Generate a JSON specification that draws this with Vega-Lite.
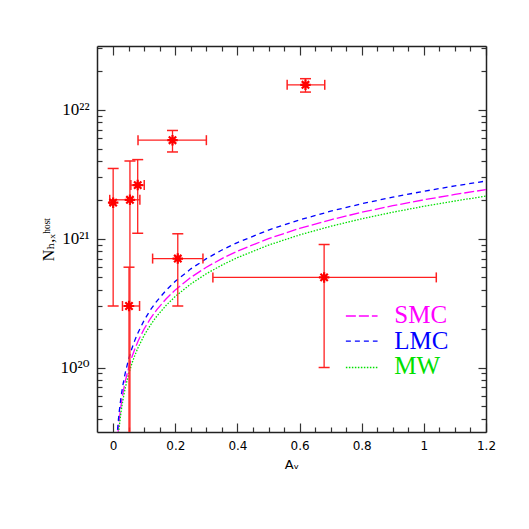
{
  "$schema": "https://vega.github.io/schema/vega-lite/v6.json",
  "width": 389,
  "height": 386,
  "autosize": {"type": "none"},
  "padding": {"left": 97, "top": 46, "right": 43, "bottom": 97},
  "background": "white",
  "config": {
    "view": {"stroke": null},
    "axis": {"domainColor": "#222", "domainWidth": 1.5, "tickColor": "#333", "tickWidth": 1.2, "grid": false, "labelOverlap": false}
  },
  "datasets": {
    "curves": [
      {"av": 0.012, "SMC": 2.4e19, "LMC": 2.796e19, "MW": 2.136e19},
      {"av": 0.014, "SMC": 2.8e19, "LMC": 3.262e19, "MW": 2.492e19},
      {"av": 0.016, "SMC": 3.2e19, "LMC": 3.728e19, "MW": 2.848e19},
      {"av": 0.018, "SMC": 3.6e19, "LMC": 4.194e19, "MW": 3.204e19},
      {"av": 0.02, "SMC": 4.0e19, "LMC": 4.66e19, "MW": 3.56e19},
      {"av": 0.025, "SMC": 5.0e19, "LMC": 5.825e19, "MW": 4.45e19},
      {"av": 0.03, "SMC": 6.0e19, "LMC": 6.99e19, "MW": 5.34e19},
      {"av": 0.035, "SMC": 7.0e19, "LMC": 8.155e19, "MW": 6.23e19},
      {"av": 0.04, "SMC": 8.0e19, "LMC": 9.32e19, "MW": 7.12e19},
      {"av": 0.05, "SMC": 1.0e20, "LMC": 1.165e20, "MW": 8.9e19},
      {"av": 0.06, "SMC": 1.2e20, "LMC": 1.398e20, "MW": 1.068e20},
      {"av": 0.07, "SMC": 1.4e20, "LMC": 1.631e20, "MW": 1.246e20},
      {"av": 0.08, "SMC": 1.6e20, "LMC": 1.864e20, "MW": 1.424e20},
      {"av": 0.1, "SMC": 2.0e20, "LMC": 2.33e20, "MW": 1.78e20},
      {"av": 0.12, "SMC": 2.4e20, "LMC": 2.796e20, "MW": 2.136e20},
      {"av": 0.14, "SMC": 2.8e20, "LMC": 3.262e20, "MW": 2.492e20},
      {"av": 0.17, "SMC": 3.4e20, "LMC": 3.961e20, "MW": 3.026e20},
      {"av": 0.2, "SMC": 4.0e20, "LMC": 4.66e20, "MW": 3.56e20},
      {"av": 0.25, "SMC": 5.0e20, "LMC": 5.825e20, "MW": 4.45e20},
      {"av": 0.3, "SMC": 6.0e20, "LMC": 6.99e20, "MW": 5.34e20},
      {"av": 0.35, "SMC": 7.0e20, "LMC": 8.155e20, "MW": 6.23e20},
      {"av": 0.4, "SMC": 8.0e20, "LMC": 9.32e20, "MW": 7.12e20},
      {"av": 0.5, "SMC": 1.0e21, "LMC": 1.165e21, "MW": 8.9e20},
      {"av": 0.6, "SMC": 1.2e21, "LMC": 1.398e21, "MW": 1.068e21},
      {"av": 0.7, "SMC": 1.4e21, "LMC": 1.631e21, "MW": 1.246e21},
      {"av": 0.8, "SMC": 1.6e21, "LMC": 1.864e21, "MW": 1.424e21},
      {"av": 0.9, "SMC": 1.8e21, "LMC": 2.097e21, "MW": 1.602e21},
      {"av": 1.0, "SMC": 2.0e21, "LMC": 2.33e21, "MW": 1.78e21},
      {"av": 1.1, "SMC": 2.2e21, "LMC": 2.563e21, "MW": 1.958e21},
      {"av": 1.2, "SMC": 2.4e21, "LMC": 2.796e21, "MW": 2.136e21}
    ],
    "points": [
      {"av": 0.0, "nh": 1.9e21, "av_lo": null, "av_hi": null, "nh_lo": 3.0e20, "nh_hi": 3.5e21},
      {"av": 0.054, "nh": 2.0e21, "av_lo": -0.011, "av_hi": 0.086, "nh_lo": 1e19, "nh_hi": 4.0e21},
      {"av": 0.051, "nh": 3.0e20, "av_lo": 0.03, "av_hi": 0.085, "nh_lo": 1e19, "nh_hi": 6.0e20},
      {"av": 0.079, "nh": 2.6e21, "av_lo": 0.057, "av_hi": 0.1, "nh_lo": 1.1e21, "nh_hi": 4.1e21},
      {"av": 0.191, "nh": 5.8e21, "av_lo": 0.08, "av_hi": 0.3, "nh_lo": 4.7e21, "nh_hi": 6.9e21},
      {"av": 0.208, "nh": 7.0e20, "av_lo": 0.127, "av_hi": 0.289, "nh_lo": 3.0e20, "nh_hi": 1.09e21},
      {"av": 0.679, "nh": 5.0e20, "av_lo": 0.321, "av_hi": 1.04, "nh_lo": 1.0e20, "nh_hi": 9.0e20},
      {"av": 0.619, "nh": 1.56e22, "av_lo": 0.56, "av_hi": 0.681, "nh_lo": 1.37e22, "nh_hi": 1.74e22}
    ],
    "legend": [
      {"model": "SMC", "x1": 0.749, "x2": 0.851, "yl": 2.51e20, "xt": 0.905, "yt": 2.22e20},
      {"model": "LMC", "x1": 0.749, "x2": 0.851, "yl": 1.6e20, "xt": 0.905, "yt": 1.4e20},
      {"model": "MW", "x1": 0.749, "x2": 0.851, "yl": 1.0e20, "xt": 0.905, "yt": 8.9e19}
    ]
  },
  "layer": [
    {
      "data": {"name": "curves"},
      "transform": [{"fold": ["SMC", "LMC", "MW"], "as": ["model", "nh"]}],
      "mark": {"type": "line", "clip": true, "strokeWidth": 1.3},
      "encoding": {
        "x": {
          "field": "av", "type": "quantitative",
          "scale": {"domain": [-0.052, 1.2], "nice": false, "zero": false},
          "axis": {
            "orient": "bottom",
            "values": [0, 0.05, 0.1, 0.15, 0.2, 0.25, 0.3, 0.35, 0.4, 0.45, 0.5, 0.55, 0.6, 0.65, 0.7, 0.75, 0.8, 0.85, 0.9, 0.95, 1.0, 1.05, 1.1, 1.15, 1.2],
            "tickSize": {"condition": {"test": "abs(datum.value*5-round(datum.value*5))<0.001", "value": -9}, "value": -5},
            "format": "~g",
            "labelExpr": "abs(datum.value*5-round(datum.value*5))<0.001 ? datum.label : ''",
            "labelFlush": false,
            "labelFont": "DejaVu Sans", "labelFontSize": 12, "labelColor": "black",
            "labelPadding": 17,
            "title": "Aᵥ", "titleFont": "DejaVu Sans", "titleFontSize": 13, "titleFontWeight": "normal", "titleColor": "black",
            "titlePadding": 3
          }
        },
        "y": {
          "field": "nh", "type": "quantitative",
          "scale": {"type": "log", "domain": [3.16e19, 3.12e22], "nice": false},
          "axis": {
            "orient": "left",
            "values": [4e19, 5e19, 6e19, 7e19, 8e19, 9e19, 1e20, 2e20, 3e20, 4e20, 5e20, 6e20, 7e20, 8e20, 9e20, 1e21, 2e21, 3e21, 4e21, 5e21, 6e21, 7e21, 8e21, 9e21, 1e22, 2e22, 3e22],
            "tickSize": {"condition": {"test": "datum.value==1e20||datum.value==1e21||datum.value==1e22", "value": -8}, "value": -5},
            "labelExpr": "datum.value==1e20 ? '10²⁰' : datum.value==1e21 ? '10²¹' : datum.value==1e22 ? '10²²' : ''",
            "labelFont": "Liberation Serif, DejaVu Serif", "labelFontSize": 17, "labelColor": "black",
            "labelPadding": 16,
            "title": "Nₕ,ₓʰᵒˢᵗ", "titleFont": "Liberation Serif, DejaVu Serif", "titleFontSize": 16, "titleFontWeight": "normal", "titleColor": "black",
            "titlePadding": 4
          }
        },
        "color": {"field": "model", "type": "nominal", "scale": {"domain": ["SMC", "LMC", "MW"], "range": ["#ff00ff", "#0000ff", "#00e000"]}, "legend": null},
        "strokeDash": {"field": "model", "type": "nominal", "scale": {"domain": ["SMC", "LMC", "MW"], "range": [[10, 3], [5, 4], [1.5, 1.5]]}, "legend": null}
      }
    },
    {
      "data": {"name": "curves"},
      "mark": {"type": "point", "opacity": 0},
      "encoding": {
        "x": {
          "field": "av", "type": "quantitative",
          "scale": {"domain": [-0.052, 1.2], "nice": false, "zero": false},
          "axis": {
            "orient": "top",
            "values": [0, 0.05, 0.1, 0.15, 0.2, 0.25, 0.3, 0.35, 0.4, 0.45, 0.5, 0.55, 0.6, 0.65, 0.7, 0.75, 0.8, 0.85, 0.9, 0.95, 1.0, 1.05, 1.1, 1.15, 1.2],
            "tickSize": {"condition": {"test": "abs(datum.value*5-round(datum.value*5))<0.001", "value": -9}, "value": -5},
            "labels": false, "title": null
          }
        },
        "y": {
          "field": "SMC", "type": "quantitative",
          "scale": {"type": "log", "domain": [3.16e19, 3.12e22], "nice": false},
          "axis": {
            "orient": "right",
            "values": [4e19, 5e19, 6e19, 7e19, 8e19, 9e19, 1e20, 2e20, 3e20, 4e20, 5e20, 6e20, 7e20, 8e20, 9e20, 1e21, 2e21, 3e21, 4e21, 5e21, 6e21, 7e21, 8e21, 9e21, 1e22, 2e22, 3e22],
            "tickSize": {"condition": {"test": "datum.value==1e20||datum.value==1e21||datum.value==1e22", "value": -8}, "value": -5},
            "labels": false, "title": null
          }
        }
      }
    },
    {
      "data": {"name": "points"},
      "mark": {"type": "rule", "clip": true, "color": "#ff2020", "strokeWidth": 1.3},
      "encoding": {
        "x": {"field": "av", "type": "quantitative", "axis": null},
        "y": {"field": "nh_lo", "type": "quantitative", "axis": null},
        "y2": {"field": "nh_hi"}
      }
    },
    {
      "data": {"name": "points"},
      "mark": {"type": "rule", "clip": true, "color": "#ff2020", "strokeWidth": 1.3},
      "encoding": {
        "x": {"field": "av_lo", "type": "quantitative", "axis": null},
        "x2": {"field": "av_hi"},
        "y": {"field": "nh", "type": "quantitative", "axis": null}
      }
    },
    {
      "data": {"name": "points"},
      "transform": [{"fold": ["nh_lo", "nh_hi"], "as": ["k", "capy"]}],
      "mark": {"type": "tick", "clip": true, "orient": "horizontal", "color": "#ff2020", "size": 11, "thickness": 1.5, "opacity": 1},
      "encoding": {
        "x": {"field": "av", "type": "quantitative", "axis": null},
        "y": {"field": "capy", "type": "quantitative", "axis": null}
      }
    },
    {
      "data": {"name": "points"},
      "transform": [{"fold": ["av_lo", "av_hi"], "as": ["k", "capx"]}],
      "mark": {"type": "tick", "clip": true, "orient": "vertical", "color": "#ff2020", "size": 10, "thickness": 1.5, "opacity": 1},
      "encoding": {
        "x": {"field": "capx", "type": "quantitative", "axis": null},
        "y": {"field": "nh", "type": "quantitative", "axis": null}
      }
    },
    {
      "data": {"name": "points"},
      "mark": {"type": "point", "clip": true, "shape": "M-1,0L1,0M0,-1L0,1M-0.7,-0.7L0.7,0.7M-0.7,0.7L0.7,-0.7", "size": 110, "filled": false, "color": "#ff0000", "strokeWidth": 2.2, "opacity": 1},
      "encoding": {
        "x": {"field": "av", "type": "quantitative", "axis": null},
        "y": {"field": "nh", "type": "quantitative", "axis": null}
      }
    },
    {
      "data": {"name": "legend"},
      "mark": {"type": "rule", "strokeWidth": 1.3},
      "encoding": {
        "x": {"field": "x1", "type": "quantitative", "axis": null},
        "x2": {"field": "x2"},
        "y": {"field": "yl", "type": "quantitative", "axis": null},
        "color": {"field": "model", "type": "nominal", "legend": null},
        "strokeDash": {"field": "model", "type": "nominal", "legend": null}
      }
    },
    {
      "data": {"name": "legend"},
      "mark": {"type": "text", "font": "Liberation Serif", "fontSize": 25, "align": "left", "baseline": "alphabetic"},
      "encoding": {
        "x": {"field": "xt", "type": "quantitative", "axis": null},
        "y": {"field": "yt", "type": "quantitative", "axis": null},
        "text": {"field": "model"},
        "color": {"field": "model", "type": "nominal", "legend": null}
      }
    }
  ],
  "resolve": {"axis": {"x": "independent", "y": "independent"}}
}
